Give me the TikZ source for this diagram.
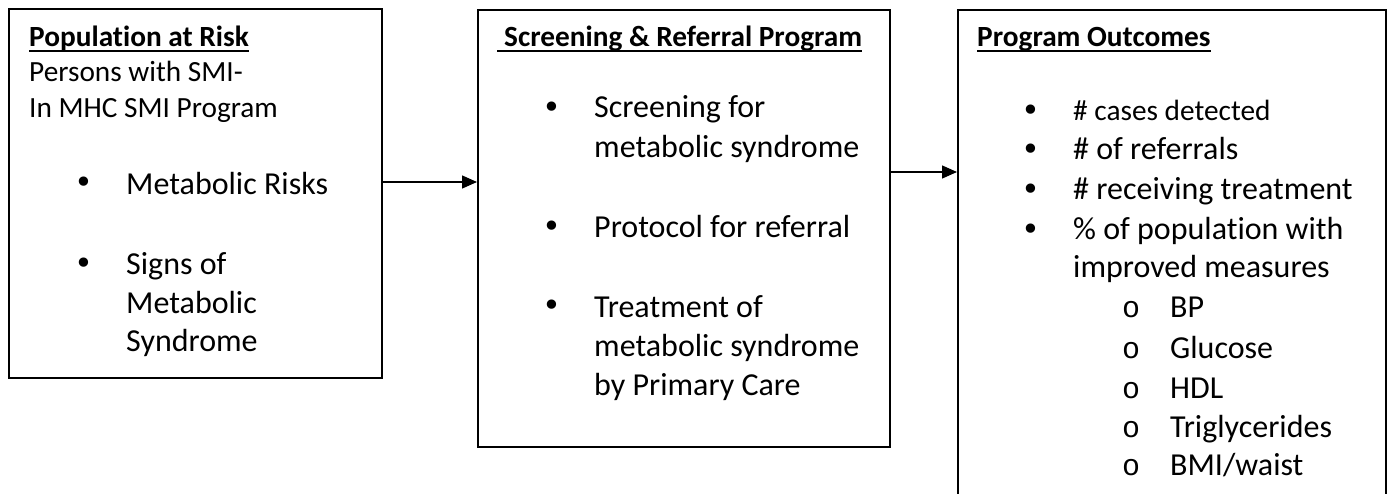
\documentclass[tikz,border=0pt]{standalone}
\usepackage{fontspec}
\setmainfont{Carlito}[Ligatures={NoCommon,NoRare,NoContextual}]
\newfontfamily\bulletfnt{DejaVu Sans}
\newfontfamily\subfnt{Liberation Mono}
\usetikzlibrary{arrows.meta}
\begin{document}
\begin{tikzpicture}[x=1pt,y=-1pt,
 box/.style={draw, line width=2pt, inner sep=0, anchor=north west},
 small/.style={anchor=base west, inner sep=0, font=\fontsize{29.3}{35.7}\selectfont},
 big/.style={anchor=base west, inner sep=0, font=\fontsize{32}{39}\selectfont},
 head/.style={anchor=base west, inner sep=0, font=\fontsize{29.3}{35.7}\selectfont\bfseries},
 dotb/.style={inner sep=0, anchor=center, font=\fontsize{32}{39}\bulletfnt},
 subb/.style={anchor=base, inner sep=0, font=\fontsize{30}{39}\subfnt},
 uline/.style={line width=2pt},
 conn/.style={line width=1.3pt, -{Triangle[length=15pt,width=13pt]}}]
\clip (0,0) rectangle (1392,494);
\fill[white] (0,0) rectangle (1392,494);
% boxes
\node[box, minimum width=373, minimum height=369] (b1) at (8,8) {};
\node[box, minimum width=412, minimum height=437] (b2) at (477,9) {};
\node[box, minimum width=428, minimum height=500] (b3) at (957,9) {};
% connectors
\coordinate (y1) at (0,182);
\coordinate (y2) at (0,172);
\draw[conn] (b1.east |- y1) -- (b2.west |- y1);
\draw[conn] (b2.east |- y2) -- (b3.west |- y2);
% box 1
\node[head] (h1) at (29,47) {Population at Risk};
\draw[uline] ([yshift=-4pt]h1.base west) -- ([yshift=-4pt]h1.base east);
\node[small] (p1) at (29,82) {Persons with SMI-};
\node[small] (p2) at (29,118) {In MHC SMI Program};
\node[dotb] (d11) at (84,185) {•};
\node[big] (t11) at (126,195) {Metabolic Risks};
\node[dotb] (d12) at (84,266) {•};
\node[big] (t12) at (126,275) {Signs of};
\node[big] (t13) at (126,313) {Metabolic};
\node[big] (t14) at (126,352) {Syndrome};
% box 2
\node[head] (h2) at (504,47) {Screening \& Referral Program};
\draw[uline] ([yshift=-4pt,xshift=-7pt]h2.base west) -- ([yshift=-4pt]h2.base east);
\node[dotb] (d21) at (552,110) {•};
\node[big] (t21) at (594,118) {Screening for};
\node[big] (t22) at (594,158) {metabolic syndrome};
\node[dotb] (d22) at (552,229) {•};
\node[big] (t23) at (594,238) {Protocol for referral};
\node[dotb] (d23) at (552,308) {•};
\node[big] (t24) at (594,317) {Treatment of};
\node[big] (t25) at (594,356) {metabolic syndrome};
\node[big] (t26) at (594,395) {by Primary Care};
% box 3
\node[head] (h3) at (977,47) {Program Outcomes};
\draw[uline] ([yshift=-4pt]h3.base west) -- ([yshift=-4pt]h3.base east);
\node[dotb] (d31) at (1031,113) {•};
\node[small] (t31) at (1073,121) {\# cases detected};
\node[dotb] (d32) at (1031,152) {•};
\node[big] (t32) at (1073,160) {\# of referrals};
\node[dotb] (d33) at (1031,192) {•};
\node[big] (t33) at (1073,200) {\# receiving treatment};
\node[dotb] (d34) at (1031,232) {•};
\node[big] (t34) at (1073,240) {\% of population with};
\node[big] (t35) at (1073,278) {improved measures};
\node[subb] (s1) at (1131,318) {o};
\node[big] (u1) at (1170,318) {BP};
\node[subb] (s2) at (1131,358) {o};
\node[big] (u2) at (1170,358) {Glucose};
\node[subb] (s3) at (1131,398) {o};
\node[big] (u3) at (1170,398) {HDL};
\node[subb] (s4) at (1131,437) {o};
\node[big] (u4) at (1170,437) {Triglycerides};
\node[subb] (s5) at (1131,475) {o};
\node[big] (u5) at (1170,475) {BMI/waist};
\end{tikzpicture}
\end{document}
